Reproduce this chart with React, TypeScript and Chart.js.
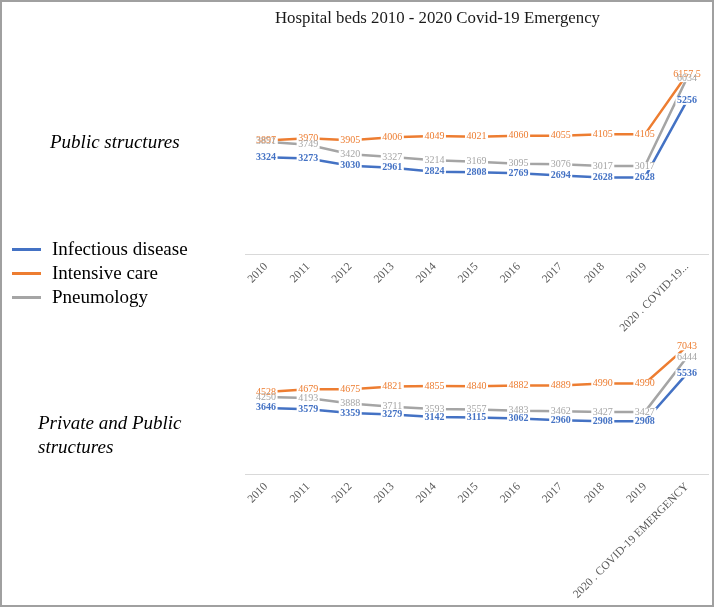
import React, { useEffect, useRef } from "react";
import { Chart, registerables } from "chart.js";

Chart.register(...registerables);

const categories = [
  "2010", "2011", "2012", "2013", "2014", "2015", "2016", "2017", "2018", "2019",
  "2020 . COVID-19 EMERGENCY",
];
const seriesNames = ["Infectious disease", "Intensive care", "Pneumology"];
const seriesColors = ["#4472C4", "#ED7D31", "#A5A5A5"];

const publicInfectious = [3324, 3273, 3030, 2961, 2824, 2808, 2769, 2694, 2628, 2628, 5256];
const publicIntensive = [3897, 3970, 3905, 4006, 4049, 4021, 4060, 4055, 4105, 4105, 6157.5];
const publicPneumology = [3851, 3749, 3420, 3327, 3214, 3169, 3095, 3076, 3017, 3017, 6034];

const allInfectious = [3646, 3579, 3359, 3279, 3142, 3115, 3062, 2960, 2908, 2908, 5536];
const allIntensive = [4528, 4679, 4675, 4821, 4855, 4840, 4882, 4889, 4990, 4990, 7043];
const allPneumology = [4250, 4193, 3888, 3711, 3593, 3557, 3483, 3462, 3427, 3427, 6444];

const W = 716;
const H = 609;
const SERIF = "'Liberation Serif', 'Times New Roman', serif";

const pointLabelPlugin = {
  id: "pointLabels",
  afterDatasetsDraw(chart: any) {
    const ctx = chart.ctx;
    ctx.save();
    ctx.textAlign = "center";
    ctx.textBaseline = "middle";
    const items: any[] = [];
    chart.data.datasets.forEach((ds: any, i: number) => {
      const meta = chart.getDatasetMeta(i);
      meta.data.forEach((pt: any, j: number) => {
        items.push({
          x: pt.x,
          y: pt.y,
          text: String(ds.data[j]),
          color: ds.borderColor,
          bold: i === 0,
        });
      });
    });
    items.forEach((it) => {
      ctx.font = `${it.bold ? "bold " : ""}10px ${SERIF}`;
      const w = ctx.measureText(it.text).width;
      ctx.fillStyle = "#ffffff";
      ctx.fillRect(it.x - w / 2 - 1.5, it.y - 4, w + 3, 8);
    });
    items.forEach((it) => {
      ctx.font = `${it.bold ? "bold " : ""}10px ${SERIF}`;
      ctx.fillStyle = it.color;
      ctx.fillText(it.text, it.x, it.y);
    });
    ctx.restore();
  },
};

function makeConfig(
  series: number[][],
  yMax: number,
  areaTop: number,
  areaBottom: number,
  axisHeight: number,
  truncate: boolean
): any {
  return {
    type: "line",
    data: {
      labels: categories,
      datasets: series.map((d, i) => ({
        label: seriesNames[i],
        data: d,
        borderColor: seriesColors[i],
        backgroundColor: seriesColors[i],
        borderWidth: 2.5,
        pointRadius: 0,
        tension: 0,
        fill: false,
      })),
    },
    options: {
      animation: false,
      responsive: false,
      maintainAspectRatio: false,
      events: [],
      layout: {
        padding: {
          top: areaTop,
          left: 245,
          right: 8,
          bottom: H - areaBottom - axisHeight,
        },
      },
      plugins: {
        legend: { display: false },
        title: { display: false },
        tooltip: { enabled: false },
      },
      scales: {
        x: {
          type: "category",
          offset: true,
          grid: { display: true, drawOnChartArea: false, drawTicks: false },
          border: { display: true, color: "#D9D9D9", width: 1 },
          afterFit: (scale: any) => {
            scale.height = axisHeight;
          },
          ticks: {
            autoSkip: false,
            minRotation: 45,
            maxRotation: 45,
            padding: 6,
            color: "#595959",
            font: { family: SERIF, size: 11.5 },
            callback: function (this: any, value: any) {
              const l = this.getLabelForValue(value);
              return truncate && l.length > 15 ? l.slice(0, 15) + "..." : l;
            },
          },
        },
        y: {
          display: false,
          min: 0,
          max: yMax,
        },
      },
    },
    plugins: [pointLabelPlugin],
  };
}

export default function App() {
  const topRef = useRef<HTMLCanvasElement>(null);
  const botRef = useRef<HTMLCanvasElement>(null);

  useEffect(() => {
    const c1 = new Chart(
      topRef.current as HTMLCanvasElement,
      makeConfig([publicInfectious, publicIntensive, publicPneumology], 7000, 50, 254, 100, true)
    );
    const c2 = new Chart(
      botRef.current as HTMLCanvasElement,
      makeConfig([allInfectious, allIntensive, allPneumology], 8000, 329, 474, 130, false)
    );
    return () => {
      c1.destroy();
      c2.destroy();
    };
  }, []);

  const canvasStyle: React.CSSProperties = {
    position: "absolute",
    left: 0,
    top: 0,
    width: W,
    height: H,
  };

  return (
    <div
      style={{
        position: "fixed",
        left: 0,
        top: 0,
        width: W,
        height: H,
        background: "#ffffff",
        fontFamily: SERIF,
        color: "#000",
      }}
    >
      <div
        style={{
          position: "absolute",
          left: 0,
          top: 0,
          width: 714,
          height: 607,
          boxSizing: "border-box",
          border: "2px solid #A0A0A0",
        }}
      />
      <canvas ref={topRef} width={W} height={H} style={canvasStyle} />
      <canvas ref={botRef} width={W} height={H} style={canvasStyle} />
      <div
        style={{
          position: "absolute",
          left: 275,
          top: 8,
          fontSize: 16.8,
          whiteSpace: "nowrap",
          color: "#1a1a1a",
        }}
      >
        Hospital beds 2010 - 2020 Covid-19 Emergency
      </div>
      <div
        style={{
          position: "absolute",
          left: 50,
          top: 131,
          fontSize: 19,
          fontStyle: "italic",
          whiteSpace: "nowrap",
        }}
      >
        Public structures
      </div>
      <div
        style={{
          position: "absolute",
          left: 38,
          top: 411,
          fontSize: 19,
          fontStyle: "italic",
          lineHeight: "24px",
        }}
      >
        Private and Public
        <br />
        structures
      </div>
      {seriesNames.map((name, i) => (
        <div
          key={name}
          style={{
            position: "absolute",
            left: 12,
            top: 237 + i * 24,
            height: 24,
            display: "flex",
            alignItems: "center",
            whiteSpace: "nowrap",
            fontSize: 19,
          }}
        >
          <span
            style={{
              display: "inline-block",
              width: 29,
              height: 3,
              background: seriesColors[i],
              marginRight: 11,
            }}
          />
          {name}
        </div>
      ))}
    </div>
  );
}
